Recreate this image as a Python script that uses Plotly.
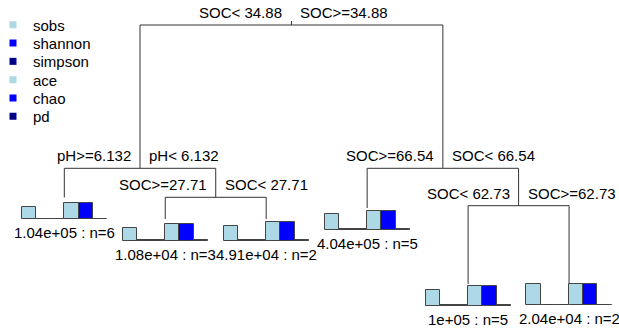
import plotly.graph_objects as go

# ---------------- data ----------------
responses = ["sobs", "shannon", "simpson", "ace", "chao", "pd"]
colors = ["#ADD8E6", "#0000FF", "#00008B", "#ADD8E6", "#0000FF", "#00008B"]

# leaves, left to right
leaf_dev = ["1.04e+05", "1.08e+04", "4.91e+04", "4.04e+05", "1e+05", "2.04e+04"]
leaf_n = [6, 3, 2, 5, 5, 2]
leaf_height = [138.5, 117.0, 117.0, 128.0, 52.0, 52.5]

# relative leaf means of each response (scaled to the largest)
sobs = [0.56, 0.60, 0.67, 0.73, 0.70, 0.96]
shannon = [0.01, 0.01, 0.01, 0.01, 0.01, 0.01]
simpson = [0.01, 0.01, 0.01, 0.01, 0.01, 0.01]
ace = [0.73, 0.78, 0.86, 0.87, 0.91, 0.98]
chao = [0.73, 0.78, 0.87, 0.88, 0.91, 0.98]
pd = [0.01, 0.01, 0.01, 0.01, 0.01, 0.01]
values = [sobs, shannon, simpson, ace, chao, pd]

# internal splits
node_children = [("N1", "N3"), ("L0", "N2"), ("L1", "L2"), ("L3", "N4"), ("L4", "L5")]
node_height = [311.0, 167.7, 138.7, 167.7, 130.3]
left_label = ["SOC&lt; 34.88", "pH>=6.132", "SOC>=27.71", "SOC>=66.54", "SOC&lt; 62.73"]
right_label = ["SOC>=34.88", "pH&lt; 6.132", "SOC&lt; 27.71", "SOC&lt; 66.54", "SOC>=62.73"]

# ---------------- layout helpers ----------------
W, H = 619, 336
PX_PER_LEAF = 100.95
LEAF0_PX = 64.3
BAR_H = 21.5
BW = 14.2 / PX_PER_LEAF
FONT = "Liberation Sans, Arial, sans-serif"


def pos(ref):
    kind, i = ref[0], int(ref[1:])
    if kind == "L":
        return i + 1.0, leaf_height[i]
    lx, _ = pos(node_children[i][0])
    rx, _ = pos(node_children[i][1])
    return (lx + rx) / 2.0, node_height[i]


fig = go.Figure()

# tree branches
lx_, ly_ = [], []
for i, (a, b) in enumerate(node_children):
    nx, nh = pos("N%d" % i)
    ax, ah = pos(a)
    bx, bh = pos(b)
    lx_ += [ax, ax, bx, bx, None]
    ly_ += [ah, nh, nh, bh, None]
rx0, rh0 = pos("N0")
lx_ += [rx0, rx0, None]
ly_ += [rh0, rh0 + 4, None]
fig.add_trace(go.Scatter(x=lx_, y=ly_, mode="lines", line=dict(color="#333333", width=1),
                         hoverinfo="skip", showlegend=False))

# leaf bar charts
for j, resp in enumerate(responses):
    xs = [k + 1.0 + (j - 2.5) * BW for k in range(len(leaf_dev))]
    base = [h - BAR_H for h in leaf_height]
    ys = [v * BAR_H for v in values[j]]
    fig.add_trace(go.Bar(x=xs, y=ys, base=base, width=BW, name=resp,
                         marker=dict(color=colors[j], line=dict(color="#444444", width=1)),
                         showlegend=False))

# legend entries (one legend each to match spacing)
leg_layout = {}
for j, resp in enumerate(responses):
    key = "legend" if j == 0 else "legend%d" % (j + 1)
    fig.add_trace(go.Scatter(x=[None], y=[None], mode="markers", name=resp,
                             marker=dict(symbol="square", size=7, color=colors[j]),
                             legend=key, showlegend=True))
    cy = 25.0 + j * 18.3
    leg_layout[key] = dict(x=-7 / W, xanchor="left", y=1 - cy / H, yanchor="middle",
                           bgcolor="rgba(0,0,0,0)", font=dict(size=15, family=FONT, color="black"))

annotations = []
for i in range(len(node_children)):
    nx, nh = pos("N%d" % i)
    annotations.append(dict(x=nx, y=nh, text=left_label[i], xanchor="right", yanchor="middle",
                            xshift=-8, yshift=12.5, showarrow=False, borderpad=0))
    annotations.append(dict(x=nx, y=nh, text=right_label[i], xanchor="left", yanchor="middle",
                            xshift=8, yshift=12.5, showarrow=False, borderpad=0))
for k in range(len(leaf_dev)):
    annotations.append(dict(x=k + 1.0, y=leaf_height[k] - BAR_H,
                            text="%s : n=%d" % (leaf_dev[k], leaf_n[k]),
                            xanchor="center", yanchor="middle", yshift=-13.5,
                            showarrow=False, borderpad=0))

x0 = 1 - LEAF0_PX / PX_PER_LEAF
x1 = 1 + (W - LEAF0_PX) / PX_PER_LEAF
fig.update_layout(
    width=W, height=H, margin=dict(l=0, r=0, t=0, b=0, autoexpand=False),
    paper_bgcolor="white", plot_bgcolor="white",
    barmode="overlay", bargap=0,
    font=dict(family=FONT, size=15, color="black"),
    xaxis=dict(range=[x0, x1], visible=False, fixedrange=True),
    yaxis=dict(range=[0, H], visible=False, fixedrange=True),
    annotations=annotations,
    **leg_layout,
)

fig.write_html("out.html")
